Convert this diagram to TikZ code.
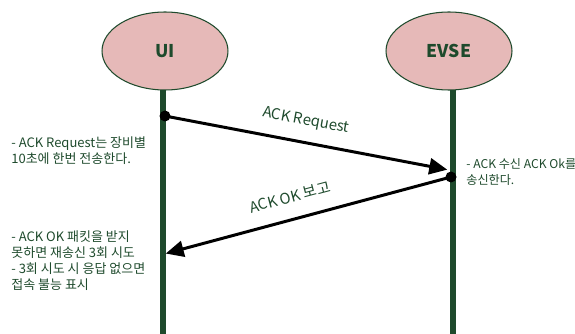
\documentclass[tikz,border=0pt]{standalone}
\usepackage{fontspec}
\setmainfont{Noto Sans CJK KR}
\usepackage{xcolor}
\usetikzlibrary{arrows.meta,shapes.geometric}
\definecolor{lifegreen}{HTML}{1E4A2C}
\definecolor{actorpink}{HTML}{E6B9B8}
\tikzset{
  actor/.style={ellipse,draw=lifegreen,line width=0.6pt,fill=actorpink,minimum width=2.52cm,minimum height=1.56cm,
    font=\fontsize{10}{12}\selectfont\bfseries,text=lifegreen},
  life/.style={lifegreen,line width=3.4pt,line cap=round},
  msg/.style={line width=1.7pt,-{Triangle[length=3.6mm,width=3.2mm]},shorten >=1pt},
  dot/.style={circle,fill=black,inner sep=0pt,minimum size=2.2mm},
  msglbl/.style={text=lifegreen,font=\fontsize{8.5}{10}\selectfont,inner sep=0pt},
  note/.style={text=lifegreen,font=\fontsize{7.4}{9.2}\selectfont,align=left,anchor=north west,inner sep=0pt}
}

\begin{document}
\begin{tikzpicture}[x=0.02cm,y=-0.02cm]
\useasboundingbox (0,0) rectangle (575,334);
% the two lifelines
\draw[life] (163,88) -- (163,334);
\draw[life] (453,88) -- (453,334);
\node[actor] (ui) at (165,51) {UI};
\node[actor] (evse) at (449,51) {EVSE};
% message end points
\node[dot] (reqfrom) at (165,116) {};
\coordinate (reqto) at (449,170);
\node[dot] (okfrom) at (451,177) {};
\coordinate (okto) at (164,254);
\draw[msg] (reqfrom.center) -- (reqto);
\draw[msg] (okfrom.center) -- (okto);
\node[msglbl,rotate=-10.6] (reqlbl) at (306,121) {ACK Request};
\node[msglbl,rotate=15] (oklbl) at (290,197) {ACK OK 보고};
% notes beside the lifelines
\node[note] (sendnote) at (11,136) {- ACK Request는 장비별\\10초에 한번 전송한다.};
\node[note,font=\fontsize{6.9}{9.2}\selectfont] (recvnote) at (466,158) {- ACK 수신 ACK Ok를\\송신한다.};
\node[note] (retrynote) at (11,230) {- ACK OK 패킷을 받지\\못하면 재송신 3회 시도\\- 3회 시도 시 응답 없으면\\접속 불능 표시};
\end{tikzpicture}
\end{document}
